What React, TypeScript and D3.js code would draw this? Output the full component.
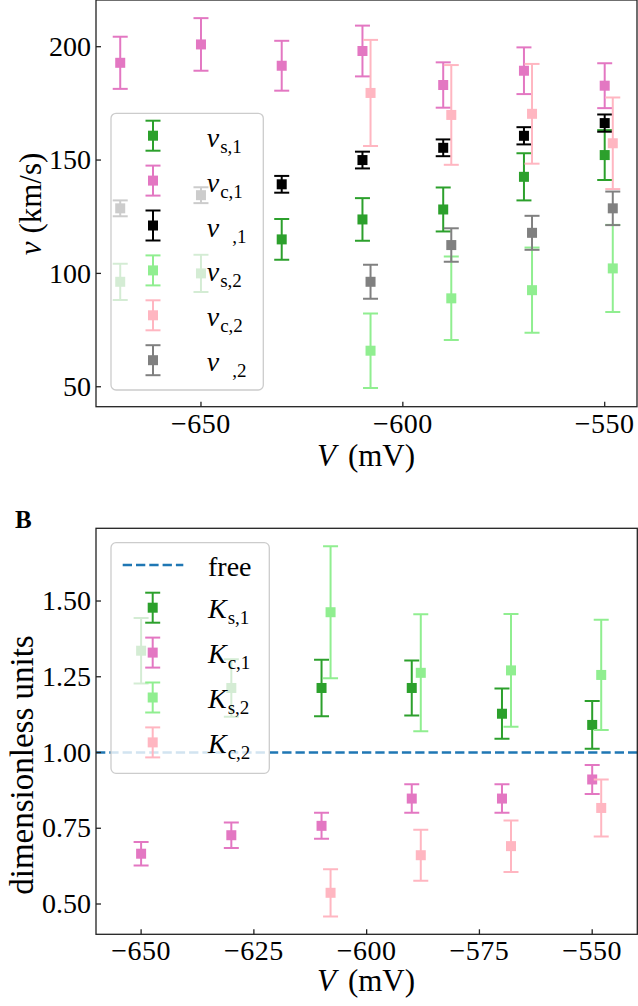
import React from "react";
import * as d3 from "d3";

// ---------- Panel A data ----------
const vX1 = [-670, -650, -630, -610, -590, -570, -550];
const vX2 = [-608, -588, -568, -548];
const vs1 = [96.3, 100.0, 115.0, 123.8, 128.2, 142.6, 152.2];
const vs1Err = [8.0, 8.2, 9.0, 9.4, 9.7, 10.4, 11.0];
const vc1 = [192.9, 201.0, 191.6, 198.1, 183.1, 189.4, 182.8];
const vc1Err = [11.5, 11.6, 11.0, 11.2, 10.0, 10.3, 9.9];
const vb1 = [128.7, 134.5, 139.3, 150.0, 155.4, 160.7, 166.3];
const vb1Err = [3.5, 3.5, 3.7, 3.7, 3.7, 3.8, 3.8];
const vs2 = [65.9, 89.0, 92.6, 102.2];
const vs2Err = [16.4, 18.4, 18.8, 19.2];
const vc2 = [179.6, 169.9, 170.4, 157.4];
const vc2Err = [23.4, 22.0, 22.0, 20.2];
const vb2 = [96.3, 112.5, 117.9, 128.7];
const vb2Err = [7.5, 7.4, 7.5, 7.4];
const topXTicks = [-650, -600, -550];
const topYTicks = [50, 100, 150, 200];

// ---------- Panel B data ----------
const kX1 = [-650, -630, -610, -590, -570, -550];
const kX2 = [-608, -588, -568, -548];
const ks1 = [1.336, 1.213, 1.213, 1.213, 1.128, 1.091];
const ks1Err = [0.108, 0.095, 0.093, 0.091, 0.083, 0.079];
const kc1 = [0.666, 0.727, 0.758, 0.848, 0.848, 0.911];
const kc1Err = [0.039, 0.042, 0.043, 0.047, 0.047, 0.048];
const ks2 = [1.463, 1.263, 1.271, 1.256];
const ks2Err = [0.218, 0.193, 0.186, 0.182];
const kc2 = [0.537, 0.661, 0.691, 0.817];
const kc2Err = [0.078, 0.084, 0.085, 0.094];
const freeLevel = 1.0;
const botXTicks = [-650, -625, -600, -575, -550];
const botYTicks = [0.5, 0.75, 1.0, 1.25, 1.5];

const C = {
  green: "#2ca02c",
  pink: "#e377c2",
  black: "#000000",
  lgreen: "#90ee90",
  lpink: "#ffb6c1",
  gray: "#808080",
  blue: "#1f77b4",
};

const FONT = "'Liberation Serif', 'DejaVu Serif', serif";
const TICK_FS = 28;
const MS = 10; // marker size
const CAP = 7.5;
const EW = 2;

type Series = { x: number[]; y: number[]; e: number[]; color: string; sub: string; main: string };

const topSeries: Series[] = [
  { x: vX1, y: vs1, e: vs1Err, color: C.green, main: "v", sub: "s,1" },
  { x: vX1, y: vc1, e: vc1Err, color: C.pink, main: "v", sub: "c,1" },
  { x: vX1, y: vb1, e: vb1Err, color: C.black, main: "v", sub: ",1" },
  { x: vX2, y: vs2, e: vs2Err, color: C.lgreen, main: "v", sub: "s,2" },
  { x: vX2, y: vc2, e: vc2Err, color: C.lpink, main: "v", sub: "c,2" },
  { x: vX2, y: vb2, e: vb2Err, color: C.gray, main: "v", sub: ",2" },
];

const botSeries: Series[] = [
  { x: kX1, y: ks1, e: ks1Err, color: C.green, main: "K", sub: "s,1" },
  { x: kX1, y: kc1, e: kc1Err, color: C.pink, main: "K", sub: "c,1" },
  { x: kX2, y: ks2, e: ks2Err, color: C.lgreen, main: "K", sub: "s,2" },
  { x: kX2, y: kc2, e: kc2Err, color: C.lpink, main: "K", sub: "c,2" },
];

function ErrPoint({ cx, cy, y0, y1, color }: { cx: number; cy: number; y0: number; y1: number; color: string }) {
  return (
    <g>
      <line x1={cx} x2={cx} y1={y0} y2={y1} stroke={color} strokeWidth={EW} />
      <line x1={cx - CAP} x2={cx + CAP} y1={y0} y2={y0} stroke={color} strokeWidth={EW} />
      <line x1={cx - CAP} x2={cx + CAP} y1={y1} y2={y1} stroke={color} strokeWidth={EW} />
      <rect x={cx - MS / 2} y={cy - MS / 2} width={MS} height={MS} fill={color} />
    </g>
  );
}

function SeriesMarks({ s, x, y }: { s: Series; x: d3.ScaleLinear<number, number>; y: d3.ScaleLinear<number, number> }) {
  return (
    <g>
      {s.x.map((xv, i) => (
        <ErrPoint
          key={i}
          cx={x(xv)}
          cy={y(s.y[i])}
          y0={y(s.y[i] + s.e[i])}
          y1={y(s.y[i] - s.e[i])}
          color={s.color}
        />
      ))}
    </g>
  );
}

function Axes({
  x, y, xTicks, yTicks, fmtY,
}: {
  x: d3.ScaleLinear<number, number>; y: d3.ScaleLinear<number, number>;
  xTicks: number[]; yTicks: number[]; fmtY: (v: number) => string;
}) {
  const [x0, x1] = x.range();
  const [yb, yt] = y.range();
  const fmtX = (v: number) => (v < 0 ? "\u2212" + Math.abs(v) : String(v));
  return (
    <g fontFamily={FONT} fontSize={TICK_FS} fill="#000">
      <rect x={x0} y={yt} width={x1 - x0} height={yb - yt} fill="none" stroke="#222" strokeWidth={1.3} />
      {xTicks.map((t) => (
        <g key={t}>
          <line x1={x(t)} x2={x(t)} y1={yb} y2={yb - 5} stroke="#222" strokeWidth={1.3} />
          <text x={x(t)} y={yb + 26} textAnchor="middle" letterSpacing={0.5}>{fmtX(t)}</text>
        </g>
      ))}
      {yTicks.map((t) => (
        <g key={t}>
          <line x1={x0} x2={x0 + 5} y1={y(t)} y2={y(t)} stroke="#222" strokeWidth={1.3} />
          <text x={x0 - 5} y={y(t)} dy="0.33em" textAnchor="end">{fmtY(t)}</text>
        </g>
      ))}
    </g>
  );
}

function LegendLabel({ x, y, main, sub }: { x: number; y: number; main: string; sub: string }) {
  const blank = sub.startsWith(",");
  return (
    <text x={x} y={y} fontFamily={FONT} fontSize={28} fill="#000">
      <tspan fontStyle="italic">{main}</tspan>
      <tspan fontSize={19} dy={6} dx={blank ? 13 : 1}>{sub}</tspan>
    </text>
  );
}

function LegendHandle({ cx, cy, color }: { cx: number; cy: number; color: string }) {
  return <ErrPoint cx={cx} cy={cy} y0={cy - 15} y1={cy + 15} color={color} />;
}

export default function App() {
  const tx = d3.scaleLinear().domain([-676, -542]).range([96, 637]);
  const ty = d3.scaleLinear().domain([41.2, 220.6]).range([406.7, 0]);
  const bx = d3.scaleLinear().domain([-660, -540]).range([96, 637.3]);
  const by = d3.scaleLinear().domain([0.4, 1.74]).range([934.3, 528.3]);

  const topLegY = 135.7;
  const botLegY = 607.7;
  const step = 44.9;

  return (
    <svg width={638} height={1006} style={{ position: "absolute", left: 0, top: 0, background: "#fff" }}>
      <rect x={0} y={0} width={638} height={1006} fill="#fff" />
      <defs>
        <clipPath id="clipA"><rect x={96} y={0} width={541} height={406.7} /></clipPath>
        <clipPath id="clipB"><rect x={96} y={528.3} width={541.3} height={406} /></clipPath>
      </defs>
      {/* ===== Panel A ===== */}
      <g clipPath="url(#clipA)">
        {topSeries.map((s, i) => <SeriesMarks key={i} s={s} x={tx} y={ty} />)}
      </g>
      <g>
        <rect x={111} y={113.3} width={152.3} height={276.7} rx={5} fill="#fff" fillOpacity={0.8} stroke="#cccccc" strokeWidth={1.3} />
        {topSeries.map((s, i) => (
          <g key={i}>
            <LegendHandle cx={153} cy={topLegY + i * step} color={s.color} />
            <LegendLabel x={206.7} y={topLegY + i * step + 11} main={s.main} sub={s.sub} />
          </g>
        ))}
      </g>
      <Axes x={tx} y={ty} xTicks={topXTicks} yTicks={topYTicks} fmtY={(v) => String(v)} />
      <text x={366} y={466} textAnchor="middle" fontFamily={FONT} fontSize={31}>
        <tspan fontStyle="italic">V</tspan>
        <tspan dx={12}>(mV)</tspan>
      </text>
      <text transform="translate(41,204) rotate(-90)" textAnchor="middle" fontFamily={FONT} fontSize={31}>
        <tspan fontStyle="italic">v</tspan>
        <tspan dx={8}>(km/s)</tspan>
      </text>

      {/* ===== Panel B ===== */}
      <text x={15} y={528.3} fontFamily={FONT} fontSize={25} fontWeight="bold">B</text>
      <g clipPath="url(#clipB)">
        <line x1={96} x2={637.3} y1={by(freeLevel)} y2={by(freeLevel)} stroke={C.blue} strokeWidth={2.6} strokeDasharray="9.3 4" />
        {botSeries.map((s, i) => <SeriesMarks key={i} s={s} x={bx} y={by} />)}
      </g>
      <g>
        <rect x={111} y={542.7} width={158.3} height={230.6} rx={5} fill="#fff" fillOpacity={0.8} stroke="#cccccc" strokeWidth={1.3} />
        <line x1={122.7} x2={183.3} y1={565} y2={565} stroke={C.blue} strokeWidth={2.6} strokeDasharray="9.3 4" />
        <text x={208} y={576} fontFamily={FONT} fontSize={28}>free</text>
        {botSeries.map((s, i) => (
          <g key={i}>
            <LegendHandle cx={152.7} cy={botLegY + i * step} color={s.color} />
            <LegendLabel x={208} y={botLegY + i * step + 10.5} main={s.main} sub={s.sub} />
          </g>
        ))}
      </g>
      <Axes x={bx} y={by} xTicks={botXTicks} yTicks={botYTicks} fmtY={(v) => v.toFixed(2)} />
      <text x={366} y={991} textAnchor="middle" fontFamily={FONT} fontSize={31}>
        <tspan fontStyle="italic">V</tspan>
        <tspan dx={12}>(mV)</tspan>
      </text>
      <text transform="translate(33,765) rotate(-90)" textAnchor="middle" fontFamily={FONT} fontSize={33}>
        dimensionless units
      </text>
    </svg>
  );
}
